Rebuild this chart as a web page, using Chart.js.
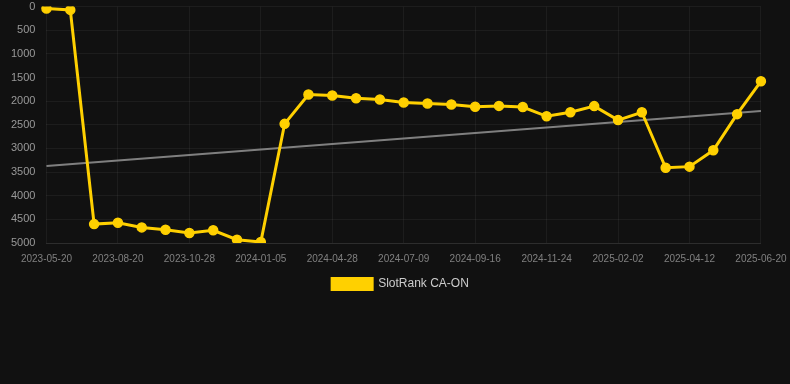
<!DOCTYPE html>
<html>
<head>
<meta charset="utf-8">
<script src="https://cdn.jsdelivr.net/npm/chart.js@4/dist/chart.umd.min.js"></script>
<style>
    html, body { margin: 0; padding: 0; background: #111111; }
    #wrap { width: 790px; height: 300px; position: relative; }
</style>
</head>
<body>
<div id="wrap"><canvas id="rankChart"></canvas></div>
<script>
// Chart data
const dates = [
    '2023-05-20', '2023-06-20', '2023-07-20',
    '2023-08-20', '2023-09-12', '2023-10-05',
    '2023-10-28', '2023-11-20', '2023-12-13',
    '2024-01-05', '2024-02-12', '2024-03-21',
    '2024-04-28', '2024-05-22', '2024-06-15',
    '2024-07-09', '2024-08-01', '2024-08-24',
    '2024-09-16', '2024-10-09', '2024-11-01',
    '2024-11-24', '2024-12-17', '2025-01-09',
    '2025-02-02', '2025-02-25', '2025-03-20',
    '2025-04-12', '2025-05-05', '2025-05-28',
    '2025-06-20'
];

const ranks = [
    40, 70, 4600,
    4570, 4670, 4720,
    4790, 4730, 4930,
    4980, 2480, 1860,
    1880, 1940, 1965,
    2030, 2050, 2070,
    2120, 2100, 2125,
    2320, 2235, 2105,
    2400, 2235, 3410,
    3385, 3040, 2275,
    1580
];

// Trend line end points (first and last date)
const trendStart = 3370;
const trendEnd = 2206;

const yTicks = { min: 0, max: 5000, step: 500 };

const trendData = dates.map((d, i) => {
    if (i === 0) return trendStart;
    if (i === dates.length - 1) return trendEnd;
    return null;
});

const fontFamily = '"Liberation Sans", Arial, Helvetica, sans-serif';

const ctx = document.getElementById('rankChart').getContext('2d');
new Chart(ctx, {
    type: 'line',
    data: {
        labels: dates,
        datasets: [{
            label: 'SlotRank CA-ON',
            data: ranks,
            borderColor: '#ffd000',
            backgroundColor: '#ffd000',
            borderWidth: 3,
            pointRadius: 4.5,
            pointBorderWidth: 1.5,
            pointBackgroundColor: '#ffd000',
            pointBorderColor: '#ffd000',
            tension: 0
        }, {
            label: 'trend',
            data: trendData,
            borderColor: 'rgba(140,140,140,0.9)',
            borderWidth: 2,
            pointRadius: 0,
            spanGaps: true,
            tension: 0
        }]
    },
    options: {
        responsive: true,
        maintainAspectRatio: false,
        animation: false,
        layout: { autoPadding: false, padding: { left: 11 } },
        plugins: {
            legend: {
                position: 'bottom',
                labels: {
                    color: '#cccccc',
                    boxWidth: 40,
                    boxHeight: 11,
                    font: { family: fontFamily, size: 12 },
                    filter: item => item.text !== 'trend'
                }
            },
            tooltip: { enabled: false }
        },
        scales: {
            x: {
                grid: { color: 'rgba(255,255,255,0.05)', tickLength: 7, tickColor: 'transparent' },
                border: { color: 'rgba(255,255,255,0.08)' },
                ticks: {
                    color: '#808080',
                    font: { family: fontFamily, size: 10, lineHeight: 1.1 },
                    autoSkip: true,
                    maxTicksLimit: 11,
                    maxRotation: 0,
                    padding: 3.5
                }
            },
            y: {
                reverse: true,
                min: yTicks.min,
                max: yTicks.max,
                grid: { color: 'rgba(255,255,255,0.05)', tickLength: 11, tickColor: 'transparent' },
                border: { display: false },
                ticks: {
                    stepSize: yTicks.step,
                    color: '#999999',
                    font: { family: fontFamily, size: 11 },
                    padding: 0,
                    callback: value => String(value)
                }
            }
        }
    }
});
</script>
</body>
</html>
